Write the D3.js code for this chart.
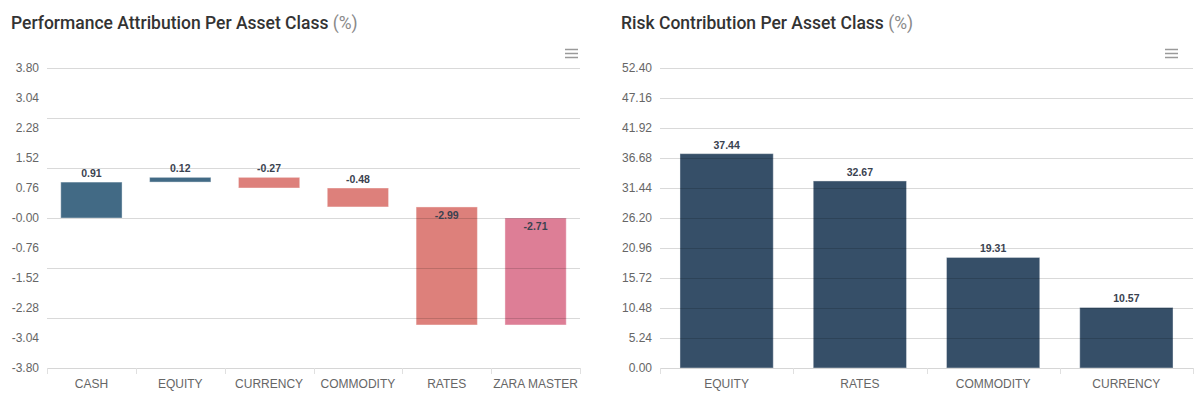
<!DOCTYPE html>
<html>
<head>
<meta charset="utf-8">
<script src="https://cdn.jsdelivr.net/npm/d3@7"></script>
<style>
  body { margin: 0; background: #fff; }
  svg { display: block; }
</style>
</head>
<body>
<script>
// performance attribution (waterfall)
let perfCategories = ["CASH", "EQUITY", "CURRENCY", "COMMODITY", "RATES", "ZARA MASTER"];
let perfValues = [0.91, 0.12, -0.27, -0.48, -2.99, -2.71];
let perfIsTotal = [false, false, false, false, false, true];
let perfTickLabels = ["3.80", "3.04", "2.28", "1.52", "0.76", "-0.00", "-0.76", "-1.52", "-2.28", "-3.04", "-3.80"];

// risk contribution
let riskCategories = ["EQUITY", "RATES", "COMMODITY", "CURRENCY"];
let riskValues = [37.44, 32.67, 19.31, 10.57];
let riskTickLabels = ["52.40", "47.16", "41.92", "36.68", "31.44", "26.20", "20.96", "15.72", "10.48", "5.24", "0.00"];

let width = 1200;
let height = 405;
let plotTop = 68, plotBottom = 368;

let svg = d3.select("body").append("svg")
    .attr("width", width)
    .attr("height", height);

function drawTitle(x, main) {
    let t = svg.append("text")
        .attr("x", x)
        .attr("y", 29)
        .attr("font-family", "Roboto, sans-serif")
        .attr("font-size", 17.5);
    t.append("tspan").attr("font-weight", 500).attr("fill", "#333").text(main + " ");
    t.append("tspan").attr("fill", "#8a8a8a").text("(%)");
}

function drawMenu(x) {
    svg.append("g").selectAll("line")
        .data([0, 4, 8])
        .enter().append("line")
        .attr("x1", x).attr("x2", x + 13)
        .attr("y1", d => 49.5 + d).attr("y2", d => 49.5 + d)
        .attr("stroke", "#9a9a9a")
        .attr("stroke-width", 1.5);
}

function drawXAxis(g, x, left, right) {
    g.append("line")
        .attr("x1", left).attr("x2", right)
        .attr("y1", plotBottom + 0.5).attr("y2", plotBottom + 0.5)
        .attr("stroke", "#d6d6d6");
    let edges = x.domain().map(d => x(d)).concat([right]);
    g.selectAll(".xtick")
        .data(edges)
        .enter().append("line")
        .attr("x1", d => Math.round(d) + 0.5).attr("x2", d => Math.round(d) + 0.5)
        .attr("y1", plotBottom).attr("y2", plotBottom + 6)
        .attr("stroke", "#e0e0e0");
    g.selectAll(".xlabel")
        .data(x.domain())
        .enter().append("text")
        .attr("x", d => x(d) + x.bandwidth() / 2)
        .attr("y", plotBottom + 20)
        .attr("text-anchor", "middle")
        .attr("font-family", "'Liberation Sans', Arial, sans-serif")
        .attr("font-size", 12)
        .attr("fill", "#666")
        .text(d => d);
}

function drawYLabels(g, y, labels, xRight) {
    g.selectAll(".ylabel")
        .data(labels)
        .enter().append("text")
        .attr("x", xRight)
        .attr("y", d => y(+d) + 4)
        .attr("text-anchor", "end")
        .attr("font-family", "'Liberation Sans', Arial, sans-serif")
        .attr("font-size", 12)
        .attr("fill", "#666")
        .text(d => d);
}

function drawGrid(g, y, values, left, right) {
    g.selectAll(".grid")
        .data(values)
        .enter().append("line")
        .attr("x1", left).attr("x2", right)
        .attr("y1", d => Math.round(y(d)) + 0.5).attr("y2", d => Math.round(y(d)) + 0.5)
        .attr("stroke", "#000")
        .attr("stroke-opacity", 0.15);
}

// ---------- left chart ----------
let L = { left: 47, right: 580 };
let g1 = svg.append("g");
drawTitle(11, "Performance Attribution Per Asset Class");
drawMenu(565);

let x1 = d3.scaleBand().domain(perfCategories).range([L.left, L.right]);
let y1 = d3.scaleLinear().domain([-3.8, 3.8]).range([plotBottom, plotTop]);

let running = 0;
let steps = perfValues.map((v, i) => {
    let s;
    if (perfIsTotal[i]) {
        s = { name: perfCategories[i], v: v, from: 0, to: running, total: true };
    } else {
        s = { name: perfCategories[i], v: v, from: running, to: running + v, total: false };
        running += v;
    }
    return s;
});

let barW1 = x1.bandwidth() * 0.69;
g1.selectAll(".bar")
    .data(steps)
    .enter().append("rect")
    .attr("x", d => x1(d.name) + (x1.bandwidth() - barW1) / 2)
    .attr("y", d => y1(Math.max(d.from, d.to)))
    .attr("width", barW1)
    .attr("height", d => Math.abs(y1(d.from) - y1(d.to)))
    .attr("fill", d => d.total ? "#dd7e96" : (d.v >= 0 ? "#426a85" : "#dd807b"))
    .attr("stroke", "#fff")
    .attr("stroke-opacity", 0.4)
    .attr("stroke-width", 1);

drawGrid(g1, y1, d3.range(7).map(i => -3.8 + i * 7.6 / 6), L.left, L.right);
drawYLabels(g1, y1, perfTickLabels, 39);
drawXAxis(g1, x1, L.left, L.right);

g1.selectAll(".val")
    .data(steps)
    .enter().append("text")
    .attr("x", d => x1(d.name) + x1.bandwidth() / 2)
    .attr("y", d => {
        let t = y1(Math.max(d.from, d.to));
        let h = Math.abs(y1(d.from) - y1(d.to));
        return h > 60 ? t + 12 : t - 5;
    })
    .attr("text-anchor", "middle")
    .attr("font-family", "'Liberation Sans', Arial, sans-serif")
    .attr("font-size", 10.5)
    .attr("font-weight", "bold")
    .attr("fill", "#3a4250")
    .text(d => d.v.toFixed(2));

// ---------- right chart ----------
let R = { left: 660, right: 1193 };
let g2 = svg.append("g");
drawTitle(621, "Risk Contribution Per Asset Class");
drawMenu(1165);

let x2 = d3.scaleBand().domain(riskCategories).range([R.left, R.right]);
let y2 = d3.scaleLinear().domain([0, 52.4]).range([plotBottom, plotTop]);

let barW2 = x2.bandwidth() * 0.70;
g2.selectAll(".bar")
    .data(riskValues)
    .enter().append("rect")
    .attr("x", (d, i) => x2(riskCategories[i]) + (x2.bandwidth() - barW2) / 2)
    .attr("y", d => y2(d))
    .attr("width", barW2)
    .attr("height", d => y2(0) - y2(d))
    .attr("fill", "#364f68")
    .attr("stroke", "#fff")
    .attr("stroke-opacity", 0.4)
    .attr("stroke-width", 1);

drawGrid(g2, y2, riskTickLabels.map(Number), R.left, R.right);
drawYLabels(g2, y2, riskTickLabels, 652);
drawXAxis(g2, x2, R.left, R.right);

g2.selectAll(".val")
    .data(riskValues)
    .enter().append("text")
    .attr("x", (d, i) => x2(riskCategories[i]) + x2.bandwidth() / 2)
    .attr("y", d => y2(d) - 5)
    .attr("text-anchor", "middle")
    .attr("font-family", "'Liberation Sans', Arial, sans-serif")
    .attr("font-size", 10.5)
    .attr("font-weight", "bold")
    .attr("fill", "#3a4250")
    .text(d => d.toFixed(2));
</script>
</body>
</html>
